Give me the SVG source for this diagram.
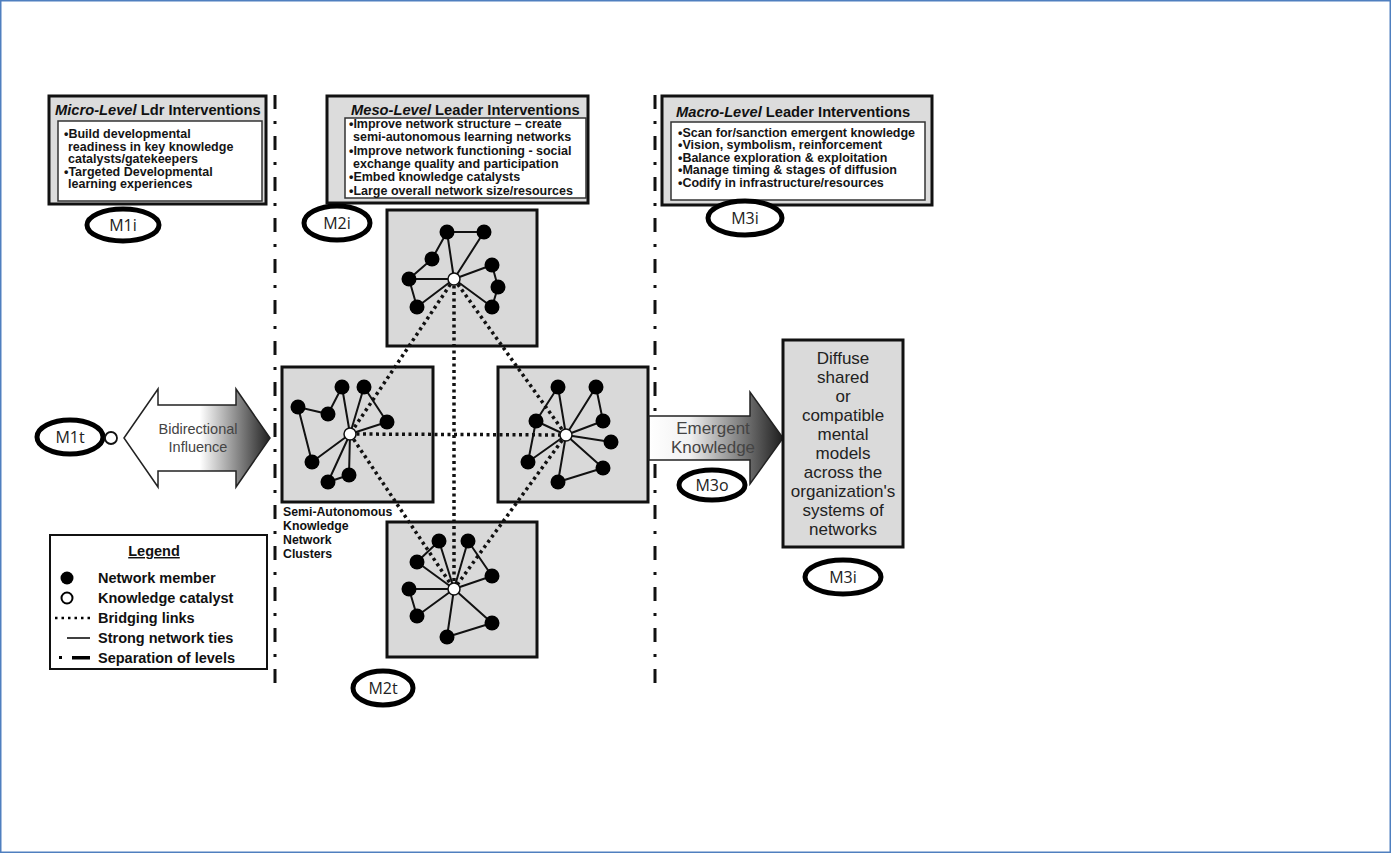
<svg xmlns="http://www.w3.org/2000/svg" width="1391" height="853" viewBox="0 0 1391 853">
  <defs>
    <style>
      .frame { fill: #ffffff; stroke: #4f7fbf; stroke-width: 1.5; }
      .panel { fill: #dcdcdc; stroke: #111; stroke-width: 3; }
      .inner { fill: #ffffff; stroke: #333; stroke-width: 1.5; }
      .title { font-family: "Liberation Sans", Arial, sans-serif; font-weight: bold; font-size: 14.7px; fill: #111; }
      .body { font-family: "Liberation Sans", Arial, sans-serif; font-weight: bold; font-size: 12.5px; fill: #151515; }
      .cluster { fill: #d9d9d9; stroke: #111; stroke-width: 3; }
      .bridge { stroke: #111; stroke-width: 3.5; stroke-dasharray: 3 3.5; fill: none; }
      .tie { stroke: #111; stroke-width: 2; fill: none; }
      .member { fill: #000; }
      .catalyst { fill: #fff; stroke: #111; stroke-width: 1.5; }
      .level { stroke: #111; stroke-width: 3; stroke-dasharray: 14 12 3 12; fill: none; }
      .tag { fill: #fff; stroke: #000; stroke-width: 5; }
      .tagtext { font-family: "Open Sans", "Liberation Sans", sans-serif; font-size: 16px; fill: #222; text-anchor: middle; }
      .arrowtext { font-family: "Liberation Sans", Arial, sans-serif; fill: #444; text-anchor: middle; }
      .diffuse { font-family: "Liberation Sans", Arial, sans-serif; font-size: 17px; fill: #222; text-anchor: middle; }
      .legend { font-family: "Liberation Sans", Arial, sans-serif; font-weight: bold; font-size: 14.5px; fill: #111; }
      .caption { font-family: "Liberation Sans", Arial, sans-serif; font-weight: bold; font-size: 12.3px; fill: #111; }
    </style>
    <linearGradient id="bidiFill" x1="0" y1="0" x2="1" y2="0">
      <stop offset="0" stop-color="#ffffff"/>
      <stop offset="0.52" stop-color="#ffffff"/>
      <stop offset="1" stop-color="#222222"/>
    </linearGradient>
    <linearGradient id="emergFill" x1="0" y1="0" x2="1" y2="0">
      <stop offset="0" stop-color="#ffffff"/>
      <stop offset="0.3" stop-color="#f2f2f2"/>
      <stop offset="1" stop-color="#1e1e1e"/>
    </linearGradient>
  </defs>

  <!-- page frame -->
  <rect class="frame" x="0.75" y="0.75" width="1389.5" height="851.5"/>

  <!-- separation of levels -->
  <g id="levels">
    <line class="level" x1="275" y1="95" x2="275" y2="692"/>
    <line class="level" x1="655" y1="95" x2="655" y2="692"/>
  </g>

  <!-- micro-level interventions -->
  <g id="micro">
    <rect class="panel" x="49" y="96" width="217" height="108"/>
    <rect class="inner" x="58" y="121" width="204" height="80"/>
    <text class="title" x="55" y="115"><tspan font-style="italic">Micro-Level</tspan> Ldr Interventions</text>
    <text class="body" x="64" y="138">•Build developmental</text>
    <text class="body" x="68" y="150.5">readiness in key knowledge</text>
    <text class="body" x="68" y="163">catalysts/gatekeepers</text>
    <text class="body" x="64" y="175.5">•Targeted Developmental</text>
    <text class="body" x="68" y="188">learning experiences</text>
  </g>

  <!-- meso-level interventions -->
  <g id="meso">
    <rect class="panel" x="327" y="96" width="261" height="107"/>
    <rect class="inner" x="345" y="118" width="241" height="80"/>
    <text class="title" x="351" y="115"><tspan font-style="italic">Meso-Level</tspan> Leader Interventions</text>
    <text class="body" x="349" y="127.5" font-size="12px">•Improve network structure – create</text>
    <text class="body" x="353" y="141" font-size="12px">semi-autonomous learning networks</text>
    <text class="body" x="349" y="154.5" font-size="12px">•Improve network functioning - social</text>
    <text class="body" x="353" y="168" font-size="12px">exchange quality and participation</text>
    <text class="body" x="349" y="181" font-size="12px">•Embed knowledge catalysts</text>
    <text class="body" x="349" y="194.5" font-size="12px">•Large overall network size/resources</text>
  </g>

  <!-- macro-level interventions -->
  <g id="macro">
    <rect class="panel" x="662" y="96" width="270" height="109"/>
    <rect class="inner" x="671" y="122" width="254" height="78"/>
    <text class="title" x="676" y="117"><tspan font-style="italic">Macro-Level</tspan>  Leader Interventions</text>
    <text class="body" x="678" y="136.5" font-size="12px">•Scan for/sanction emergent knowledge</text>
    <text class="body" x="678" y="149" font-size="12px">•Vision, symbolism, reinforcement</text>
    <text class="body" x="678" y="161.5" font-size="12px">•Balance exploration &amp; exploitation</text>
    <text class="body" x="678" y="174" font-size="12px">•Manage timing &amp; stages of diffusion</text>
    <text class="body" x="678" y="186.5" font-size="12px">•Codify in infrastructure/resources</text>
  </g>

  <!-- cluster panels -->
  <g id="cluster-top"><rect class="cluster" x="387" y="210" width="150" height="136"/></g>
  <g id="cluster-left"><rect class="cluster" x="282" y="367" width="151" height="135"/></g>
  <g id="cluster-right"><rect class="cluster" x="498" y="367" width="150" height="135"/></g>
  <g id="cluster-bottom"><rect class="cluster" x="387" y="522" width="150" height="135"/></g>

  <!-- bridging links between catalysts -->
  <g id="connectors">
    <line class="bridge" x1="454" y1="279" x2="350" y2="434"/>
    <line class="bridge" x1="454" y1="279" x2="454" y2="589"/>
    <line class="bridge" x1="454" y1="279" x2="566" y2="435"/>
    <line class="bridge" x1="350" y1="434" x2="566" y2="435"/>
    <line class="bridge" x1="350" y1="434" x2="454" y2="589"/>
    <line class="bridge" x1="566" y1="435" x2="454" y2="589"/>
  </g>

  <!-- top cluster network -->
  <g id="net-top">
    <path class="tie" d="M454 279 L447 232 M454 279 L484 232 M454 279 L409 279 M454 279 L417 307 M454 279 L492 265 M454 279 L492 307 M447 232 L484 232 M447 232 L432 259 M432 259 L409 279 M409 279 L417 307 M492 265 L498 287 L492 307"/>
    <circle class="member" cx="447" cy="232" r="7.5"/>
    <circle class="member" cx="484" cy="232" r="7.5"/>
    <circle class="member" cx="432" cy="259" r="7.5"/>
    <circle class="member" cx="409" cy="279" r="7.5"/>
    <circle class="member" cx="417" cy="307" r="7.5"/>
    <circle class="member" cx="492" cy="265" r="7.5"/>
    <circle class="member" cx="498" cy="287" r="7.5"/>
    <circle class="member" cx="492" cy="307" r="7.5"/>
    <circle class="catalyst" cx="454" cy="279" r="6"/>
  </g>

  <!-- left cluster network -->
  <g id="net-left">
    <path class="tie" d="M350 434 L342 387 M350 434 L364 387 M350 434 L387 422 M350 434 L312 462 M350 434 L328 482 M350 434 L349 475 M342 387 L328 414 L298 407 L312 462 M364 387 L387 422 M328 482 L349 475"/>
    <circle class="member" cx="342" cy="387" r="7.5"/>
    <circle class="member" cx="364" cy="387" r="7.5"/>
    <circle class="member" cx="298" cy="407" r="7.5"/>
    <circle class="member" cx="328" cy="414" r="7.5"/>
    <circle class="member" cx="387" cy="422" r="7.5"/>
    <circle class="member" cx="312" cy="462" r="7.5"/>
    <circle class="member" cx="328" cy="482" r="7.5"/>
    <circle class="member" cx="349" cy="475" r="7.5"/>
    <circle class="catalyst" cx="350" cy="434" r="6"/>
  </g>

  <!-- right cluster network -->
  <g id="net-right">
    <path class="tie" d="M566 435 L558 387 M566 435 L596 387 M566 435 L603 421 M566 435 L611 442 M566 435 L536 421 M566 435 L528 462 M566 435 L603 468 M566 435 L558 482 M596 387 L603 421 M536 421 L558 387 M536 421 L528 462 M558 482 L603 468"/>
    <circle class="member" cx="558" cy="387" r="7.5"/>
    <circle class="member" cx="596" cy="387" r="7.5"/>
    <circle class="member" cx="536" cy="421" r="7.5"/>
    <circle class="member" cx="603" cy="421" r="7.5"/>
    <circle class="member" cx="611" cy="442" r="7.5"/>
    <circle class="member" cx="528" cy="462" r="7.5"/>
    <circle class="member" cx="603" cy="468" r="7.5"/>
    <circle class="member" cx="558" cy="482" r="7.5"/>
    <circle class="catalyst" cx="566" cy="435" r="6"/>
  </g>

  <!-- bottom cluster network -->
  <g id="net-bottom">
    <path class="tie" d="M454 589 L439 541 M454 589 L468 541 M454 589 L417 562 M454 589 L492 576 M454 589 L409 589 M454 589 L417 616 M454 589 L492 623 M454 589 L447 637 M439 541 L417 562 M468 541 L492 576 M409 589 L417 616 M447 637 L492 623"/>
    <circle class="member" cx="439" cy="541" r="7.5"/>
    <circle class="member" cx="468" cy="541" r="7.5"/>
    <circle class="member" cx="417" cy="562" r="7.5"/>
    <circle class="member" cx="492" cy="576" r="7.5"/>
    <circle class="member" cx="409" cy="589" r="7.5"/>
    <circle class="member" cx="417" cy="616" r="7.5"/>
    <circle class="member" cx="492" cy="623" r="7.5"/>
    <circle class="member" cx="447" cy="637" r="7.5"/>
    <circle class="catalyst" cx="454" cy="589" r="6"/>
  </g>

  <!-- cluster caption -->
  <g id="cluster-caption">
    <text class="caption" x="283" y="516">Semi-Autonomous</text>
    <text class="caption" x="283" y="530">Knowledge</text>
    <text class="caption" x="283" y="544">Network</text>
    <text class="caption" x="283" y="558">Clusters</text>
  </g>

  <!-- bidirectional influence arrow -->
  <g id="bidirectional">
    <path d="M124 438 L158 389 L158 405 L236 405 L236 389 L270 438 L236 487 L236 471 L158 471 L158 487 Z" fill="url(#bidiFill)" stroke="#222" stroke-width="1.5"/>
    <text class="arrowtext" x="198" y="434" font-size="14.5px" fill="#555">Bidirectional</text>
    <text class="arrowtext" x="198" y="452" font-size="14.5px" fill="#555">Influence</text>
  </g>

  <!-- emergent knowledge arrow -->
  <g id="emergent">
    <path d="M649 416 L750 416 L750 392 L783 438 L750 484 L750 460 L649 460 Z" fill="url(#emergFill)" stroke="#222" stroke-width="1.5"/>
    <text class="arrowtext" x="713" y="434" font-size="17px" fill="#333">Emergent</text>
    <text class="arrowtext" x="713" y="453" font-size="17px" fill="#333">Knowledge</text>
  </g>

  <!-- diffusion outcome -->
  <g id="diffuse">
    <rect x="783" y="340" width="120" height="207" fill="#dadada" stroke="#111" stroke-width="3"/>
    <text class="diffuse" x="843" y="364">Diffuse</text>
    <text class="diffuse" x="843" y="383">shared</text>
    <text class="diffuse" x="843" y="402">or</text>
    <text class="diffuse" x="843" y="421">compatible</text>
    <text class="diffuse" x="843" y="440">mental</text>
    <text class="diffuse" x="843" y="459">models</text>
    <text class="diffuse" x="843" y="478">across the</text>
    <text class="diffuse" x="843" y="497">organization's</text>
    <text class="diffuse" x="843" y="516">systems of</text>
    <text class="diffuse" x="843" y="535">networks</text>
  </g>

  <!-- legend -->
  <g id="legend">
    <rect x="50" y="535" width="217" height="134" fill="#fff" stroke="#111" stroke-width="2"/>
    <text class="legend" x="154" y="556" text-anchor="middle" text-decoration="underline">Legend</text>
    <circle cx="67" cy="578" r="6.5" fill="#000"/>
    <text class="legend" x="98" y="583">Network member</text>
    <circle cx="67" cy="598" r="5.5" fill="#fff" stroke="#000" stroke-width="2"/>
    <text class="legend" x="98" y="603">Knowledge catalyst</text>
    <line x1="55" y1="618" x2="91" y2="618" stroke="#000" stroke-width="2.5" stroke-dasharray="2.5 4"/>
    <text class="legend" x="98" y="623">Bridging links</text>
    <line x1="67" y1="638" x2="90" y2="638" stroke="#000" stroke-width="1.5"/>
    <text class="legend" x="98" y="643">Strong network ties</text>
    <rect x="59" y="656" width="3" height="3" fill="#000"/>
    <rect x="72" y="656" width="18" height="3.5" fill="#000"/>
    <text class="legend" x="98" y="663">Separation of levels</text>
  </g>

  <!-- tags -->
  <g id="tag-m1i"><ellipse class="tag" cx="123" cy="225" rx="36" ry="16"/><text class="tagtext" x="123" y="231">M1i</text></g>
  <g id="tag-m2i"><ellipse class="tag" cx="337" cy="223" rx="33" ry="17"/><text class="tagtext" x="337" y="229">M2i</text></g>
  <g id="tag-m3i-top"><ellipse class="tag" cx="745" cy="218" rx="37" ry="17"/><text class="tagtext" x="745" y="224">M3i</text></g>
  <g id="tag-m1t">
    <ellipse class="tag" cx="70" cy="437" rx="33" ry="17"/><text class="tagtext" x="70" y="443">M1t</text>
    <circle cx="111" cy="438" r="6" fill="#fff" stroke="#111" stroke-width="1.8"/>
  </g>
  <g id="tag-m2t"><ellipse class="tag" cx="383" cy="688" rx="30" ry="17"/><text class="tagtext" x="383" y="694">M2t</text></g>
  <g id="tag-m3o"><ellipse class="tag" cx="712" cy="485" rx="33" ry="15"/><text class="tagtext" x="712" y="491">M3o</text></g>
  <g id="tag-m3i-bottom"><ellipse class="tag" cx="843" cy="577" rx="38" ry="17"/><text class="tagtext" x="843" y="583">M3i</text></g>
</svg>
